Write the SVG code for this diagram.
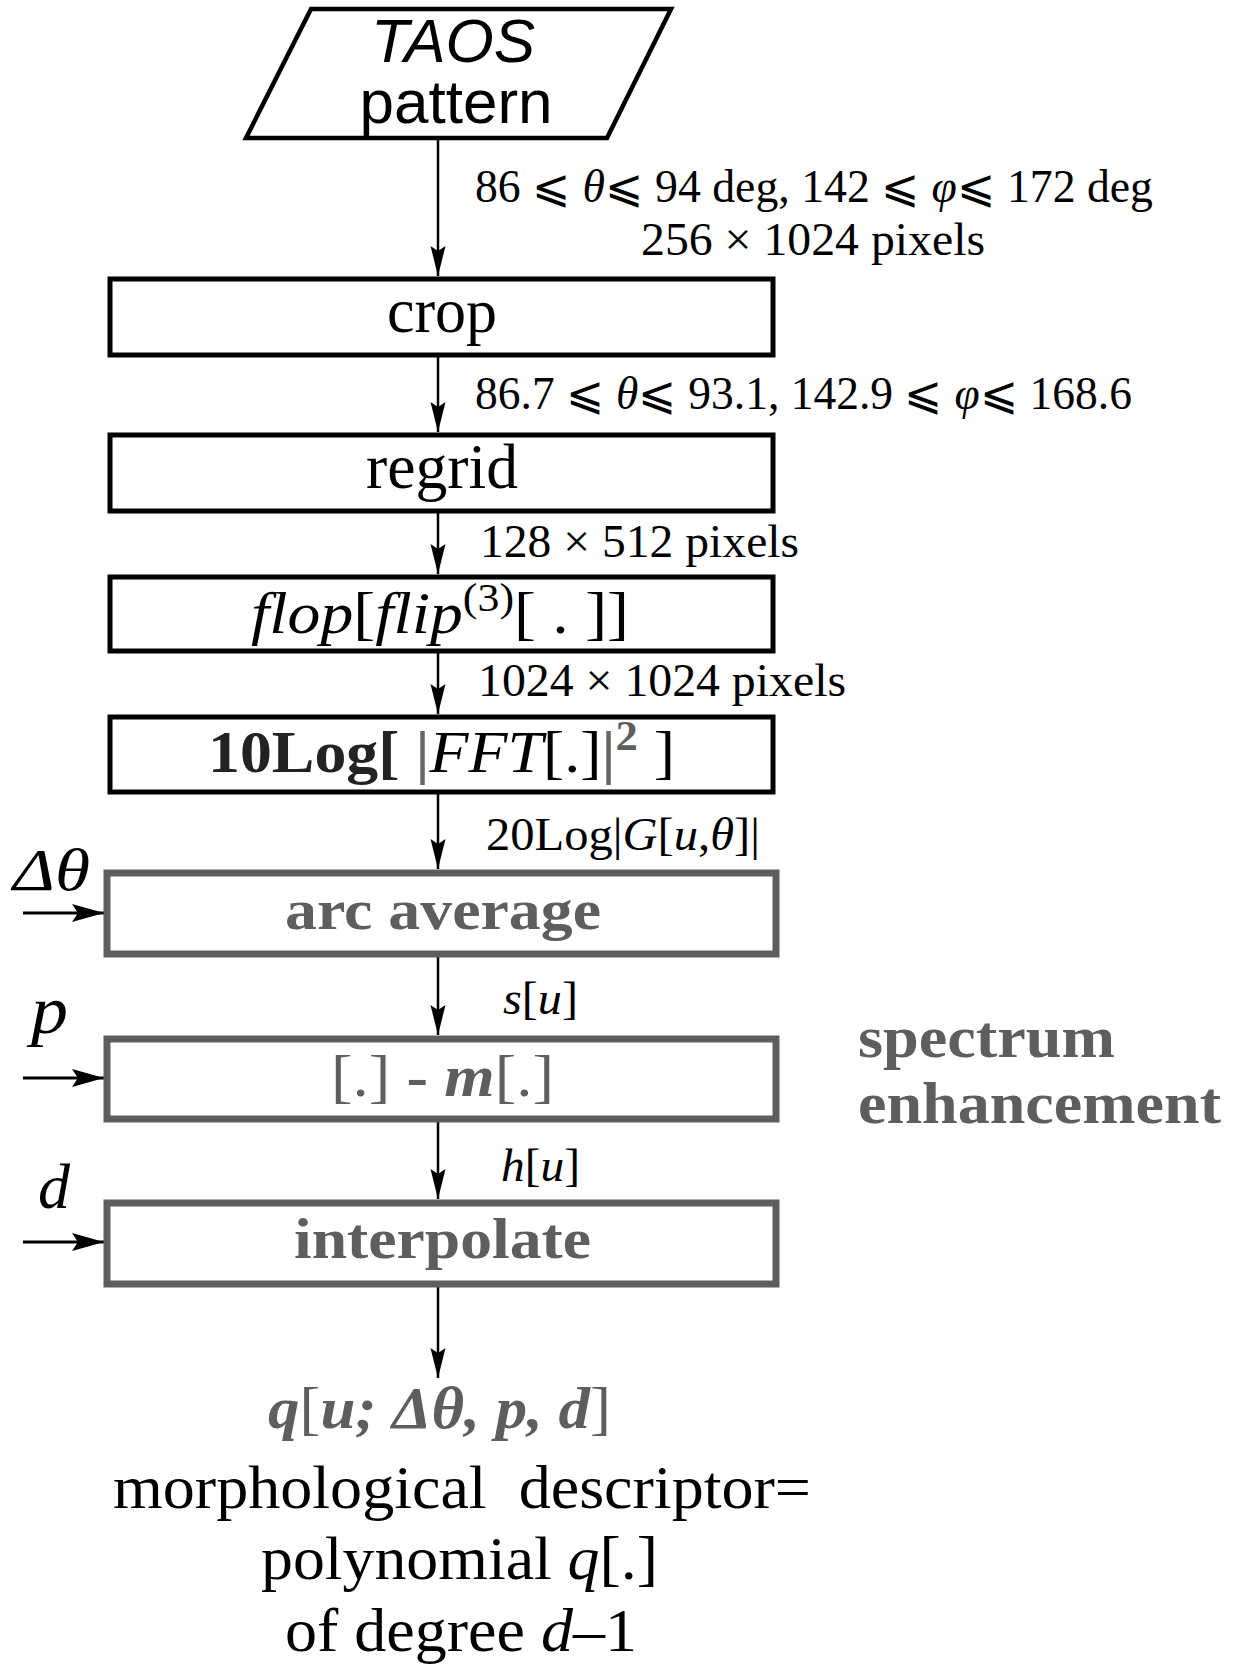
<svg xmlns="http://www.w3.org/2000/svg" width="1236" height="1665" viewBox="0 0 1236 1665">
<defs>
<style>
.t{font-family:"Liberation Serif","DejaVu Serif",serif;fill:#000}
.s{font-family:"Liberation Sans",Arial,sans-serif;fill:#000}
.i{font-style:italic}
.b{font-weight:bold}
.g{fill:#5e5e5e}
.box{fill:#fff;stroke:#000;stroke-width:5}
.gbox{fill:#fff;stroke:#5e5e5e;stroke-width:7}
.c{stroke:#000;stroke-width:2.5;fill:none}
.ci{stroke:#000;stroke-width:3;fill:none}
</style>
<marker id="ah" markerUnits="userSpaceOnUse" markerWidth="32" markerHeight="16" refX="30" refY="8" orient="auto">
<path d="M0,0.5 L30,8 L0,15.5 L5,8 z" fill="#000"/>
</marker>
<marker id="ah2" markerUnits="userSpaceOnUse" markerWidth="34" markerHeight="20" refX="32" refY="10" orient="auto">
<path d="M0,1 L32,10 L0,19 L6,10 z" fill="#000"/>
</marker>
</defs>
<rect width="1236" height="1665" fill="#fff"/>

<g id="connectors">
<line class="c" x1="438" y1="140" x2="438" y2="276" marker-end="url(#ah)"/>
<line class="c" x1="438" y1="357" x2="438" y2="432" marker-end="url(#ah)"/>
<line class="c" x1="438" y1="513" x2="438" y2="574" marker-end="url(#ah)"/>
<line class="c" x1="438" y1="653" x2="438" y2="714" marker-end="url(#ah)"/>
<line class="c" x1="438" y1="794" x2="438" y2="869" marker-end="url(#ah)"/>
<line class="c" x1="438" y1="957" x2="438" y2="1035" marker-end="url(#ah)"/>
<line class="c" x1="438" y1="1122" x2="438" y2="1199" marker-end="url(#ah)"/>
<line class="c" x1="438" y1="1287" x2="438" y2="1378" marker-end="url(#ah)"/>
<line class="ci" x1="23" y1="913" x2="104" y2="913" marker-end="url(#ah2)"/>
<line class="ci" x1="23" y1="1078" x2="104" y2="1078" marker-end="url(#ah2)"/>
<line class="ci" x1="23" y1="1242" x2="104" y2="1242" marker-end="url(#ah2)"/>
</g>

<g id="labels">
<text class="t" x="475" y="202" font-size="46" textLength="678" lengthAdjust="spacingAndGlyphs">86 ⩽ <tspan class="i">θ</tspan>⩽ 94 deg, 142 ⩽ <tspan class="i">φ</tspan>⩽ 172 deg</text>
<text class="t" x="641" y="255" font-size="46" textLength="344" lengthAdjust="spacingAndGlyphs">256 × 1024 pixels</text>
<text class="t" x="475" y="409" font-size="46" textLength="657" lengthAdjust="spacingAndGlyphs">86.7 ⩽ <tspan class="i">θ</tspan>⩽ 93.1, 142.9 ⩽ <tspan class="i">φ</tspan>⩽ 168.6</text>
<text class="t" x="480" y="557" font-size="46" textLength="319" lengthAdjust="spacingAndGlyphs">128 × 512 pixels</text>
<text class="t" x="478" y="696" font-size="46" textLength="368" lengthAdjust="spacingAndGlyphs">1024 × 1024 pixels</text>
<text class="t" x="486" y="850" font-size="46" textLength="274" lengthAdjust="spacingAndGlyphs">20Log|<tspan class="i">G</tspan>[<tspan class="i">u</tspan>,<tspan class="i">θ</tspan>]|</text>
<text class="t" x="503" y="1014" font-size="46" textLength="75" lengthAdjust="spacingAndGlyphs"><tspan class="i">s</tspan>[<tspan class="i">u</tspan>]</text>
<text class="t" x="501" y="1181" font-size="46" textLength="79" lengthAdjust="spacingAndGlyphs"><tspan class="i">h</tspan>[<tspan class="i">u</tspan>]</text>
<text class="t i" x="13" y="890" font-size="60" textLength="77" lengthAdjust="spacingAndGlyphs">Δθ</text>
<text class="t i" x="31" y="1033" font-size="68" textLength="37" lengthAdjust="spacingAndGlyphs">p</text>
<text class="t i" x="38" y="1208" font-size="64" textLength="32" lengthAdjust="spacingAndGlyphs">d</text>
<text class="t b g" x="858" y="1057" font-size="60" textLength="257" lengthAdjust="spacingAndGlyphs">spectrum</text>
<text class="t b g" x="858" y="1123" font-size="60" textLength="363" lengthAdjust="spacingAndGlyphs">enhancement</text>
</g>

<g id="taos">
<polygon points="311,9 671,9 607,138 246,138" fill="#fff" stroke="#000" stroke-width="4.5" stroke-linejoin="miter"/>
<text class="s i" x="453" y="62" font-size="62" text-anchor="middle">TAOS</text>
<text class="s" x="456" y="123" font-size="62" text-anchor="middle">pattern</text>
</g>

<g id="crop">
<rect class="box" x="110" y="279" width="663" height="76"/>
<text class="t" x="442" y="332" font-size="64" textLength="110" lengthAdjust="spacingAndGlyphs" text-anchor="middle">crop</text>
</g>

<g id="regrid">
<rect class="box" x="110" y="435" width="663" height="76"/>
<text class="t" x="442" y="488" font-size="64" textLength="152" lengthAdjust="spacingAndGlyphs" text-anchor="middle">regrid</text>
</g>

<g id="flop">
<rect class="box" x="110" y="577" width="663" height="74"/>
<text class="t" x="251" y="633" font-size="60" textLength="378" lengthAdjust="spacingAndGlyphs"><tspan class="i">flop</tspan>[<tspan class="i">flip</tspan><tspan font-size="40" dy="-22">(3)</tspan><tspan dy="22">[ . ]]</tspan></text>
</g>

<g id="fft">
<rect class="box" x="110" y="717" width="663" height="75"/>
<text class="t" x="208" y="772" font-size="60" textLength="467" lengthAdjust="spacingAndGlyphs"><tspan class="b" fill="#222">10Log[ </tspan><tspan class="b" fill="#666">|</tspan><tspan class="i">FFT</tspan>[.]<tspan class="b" fill="#666">|</tspan><tspan class="b g" font-size="42" dy="-22">2</tspan><tspan dy="22"> ]</tspan></text>
</g>

<g id="arc">
<rect class="gbox" x="107" y="873" width="669" height="81"/>
<text class="t b g" x="285" y="929" font-size="58" textLength="316" lengthAdjust="spacingAndGlyphs">arc average</text>
</g>

<g id="enhance">
<rect class="gbox" x="107" y="1039" width="669" height="80"/>
<text class="t g" x="331" y="1096" font-size="60" textLength="223" lengthAdjust="spacingAndGlyphs">[.] <tspan class="b">-</tspan> <tspan class="b i">m</tspan>[.]</text>
</g>

<g id="interp">
<rect class="gbox" x="107" y="1203" width="669" height="81"/>
<text class="t b g" x="294" y="1258" font-size="58" textLength="297" lengthAdjust="spacingAndGlyphs">interpolate</text>
</g>

<g id="output">
<text class="t g" x="268" y="1428" font-size="60" textLength="343" lengthAdjust="spacingAndGlyphs"><tspan class="b i">q</tspan>[<tspan class="b i">u; Δθ, p, d</tspan>]</text>
<text class="t" x="113" y="1508" font-size="62" textLength="698" lengthAdjust="spacingAndGlyphs">morphological&#160; descriptor=</text>
<text class="t" x="261" y="1579" font-size="62" textLength="397" lengthAdjust="spacingAndGlyphs">polynomial <tspan class="i">q</tspan>[.]</text>
<text class="t" x="285" y="1651" font-size="62" textLength="352" lengthAdjust="spacingAndGlyphs">of degree <tspan class="i">d</tspan>–1</text>
</g>
</svg>
